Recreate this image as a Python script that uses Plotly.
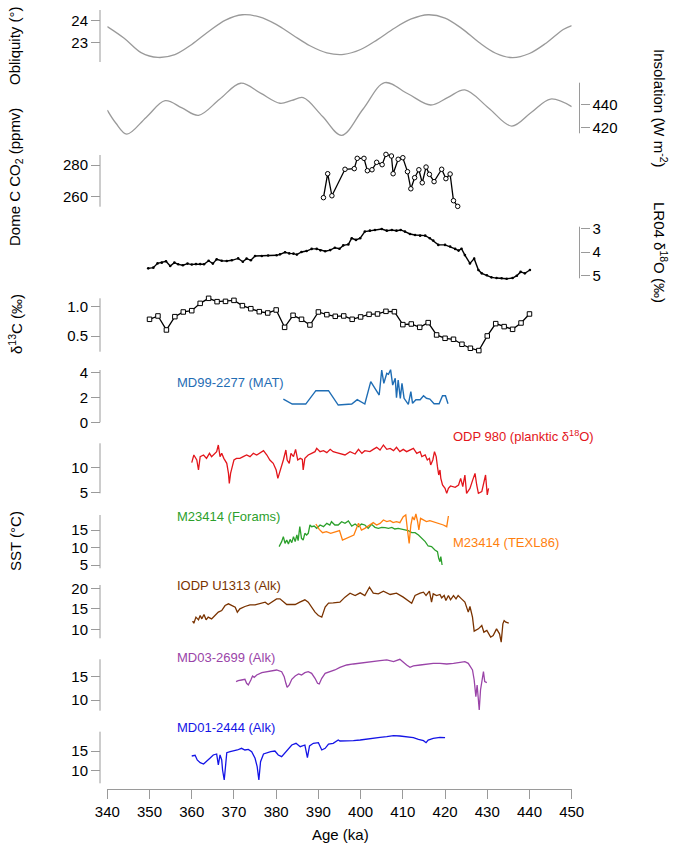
import plotly.graph_objects as go

W, H = 680, 848
FONT = "Liberation Sans, Arial, Helvetica, sans-serif"
GRAY = "#9a9a9a"

# ---------------- data (ages in ka) ----------------
obl_age = [340, 344, 348, 352, 356, 360, 364, 368, 372, 376, 380, 384, 388, 392,
           396, 400, 404, 408, 412, 416, 420, 424, 428, 432, 436, 440, 444, 448, 450]
obl_val = [23.73, 23.2, 22.55, 22.33, 22.46, 22.92, 23.51, 24.03, 24.27, 24.17, 23.83,
           23.34, 22.86, 22.54, 22.47, 22.69, 23.14, 23.66, 24.08, 24.27, 24.12, 23.64,
           23.02, 22.52, 22.32, 22.51, 22.99, 23.6, 23.78]

ins_age = [340, 342, 344.6, 349.2, 353.7, 357.7, 361.6, 366.6, 371.6, 376.3, 380.9,
           383.7, 386.4, 391, 395.5, 400.6, 405.7, 411.2, 416.6, 420.7, 424.7, 430.3,
           435.8, 440.4, 445, 450]
ins_val = [435, 424, 414.5, 428.8, 443.1, 436.9, 430.6, 444.3, 458, 449.5, 440.9,
           443.3, 445.7, 429.6, 413.5, 436, 458.5, 449, 439.4, 445.9, 452.3, 436.9,
           421.4, 433, 444.5, 438]

co2_age = [391.2, 392.2, 393.2, 396.3, 398.5, 399.2, 400.8, 401.6, 402.7, 403.8, 405.1,
           406.0, 407.3, 407.7, 408.9, 410.0, 411.1, 411.9, 412.8, 413.8, 414.6, 415.5,
           416.3, 417.4, 419.2, 420.2, 421.2, 422.0, 423.0]
co2_val = [259.4, 274.5, 260.6, 277.3, 277.7, 284.2, 284.2, 276.4, 277.0, 281.7, 280.2,
           286.7, 285.7, 274.5, 283.6, 284.6, 275.8, 265.0, 272.0, 277.0, 268.8, 278.7,
           274.1, 269.5, 277.3, 271.4, 274.3, 257.5, 253.9]

lr04_age = [349.7, 350.9, 351.9, 352.9, 353.9, 354.9, 355.9, 356.8, 357.9, 359.0, 360.0,
            361.0, 362.0, 362.9, 364.0, 365.0, 365.9, 367.1, 368.3, 369.5, 371.0, 372.1,
            373.0, 374.0, 375.0, 376.6, 378.1, 380.1, 380.9, 382.1, 383.1, 384.1, 384.9,
            386.0, 387.2, 388.4, 389.6, 390.5, 391.6, 392.8, 393.9, 395.0, 395.9, 397.1,
            397.9, 398.9, 399.9, 401.0, 402.2, 403.4, 405.0, 406.2, 407.4, 408.5, 409.5,
            410.5, 411.7, 412.9, 414.1, 415.3, 416.4, 417.2, 418.4, 420.0, 421.2, 422.4,
            423.2, 423.9, 424.7, 425.9, 426.9, 427.9, 428.7, 429.9, 431.0, 432.2, 433.4,
            434.6, 436.0, 437.0, 437.9, 438.9, 440.1]
lr04_val = [4.69, 4.66, 4.48, 4.45, 4.39, 4.59, 4.45, 4.52, 4.56, 4.49, 4.53, 4.51, 4.51,
            4.52, 4.37, 4.49, 4.31, 4.37, 4.38, 4.35, 4.27, 4.41, 4.28, 4.35, 4.17, 4.17,
            4.15, 4.14, 4.10, 4.01, 4.06, 4.07, 4.11, 4.00, 3.96, 3.87, 3.87, 3.93, 3.97,
            3.92, 3.82, 3.86, 3.72, 3.68, 3.42, 3.49, 3.42, 3.14, 3.10, 3.07, 3.03, 3.10,
            3.07, 3.10, 3.07, 3.14, 3.24, 3.28, 3.31, 3.31, 3.42, 3.52, 3.70, 3.70, 3.77,
            3.87, 3.94, 3.86, 4.13, 4.48, 4.28, 4.76, 4.90, 4.98, 5.07, 5.10, 5.11, 5.13,
            5.10, 5.00, 4.84, 4.90, 4.76]

d13c_age = [350, 352, 354, 356, 358, 360, 362, 364, 366, 368, 370, 372, 374, 376, 378,
            380, 382, 384, 386, 388, 390, 392, 394, 396, 398, 400, 402, 404, 406, 408,
            410, 412, 414, 416, 418, 420, 422, 424, 426, 428, 430, 432, 434, 436, 438, 440]
d13c_val = [0.785, 0.842, 0.603, 0.830, 0.910, 0.932, 1.057, 1.143, 1.086, 1.091, 1.108,
            1.018, 0.966, 0.915, 0.893, 0.944, 0.648, 0.853, 0.785, 0.688, 0.910, 0.864,
            0.836, 0.842, 0.785, 0.825, 0.870, 0.876, 0.921, 0.915, 0.694, 0.705, 0.648,
            0.728, 0.518, 0.461, 0.444, 0.359, 0.291, 0.251, 0.501, 0.711, 0.660, 0.614,
            0.722, 0.876]

mat_age = [381.7, 383.8, 387.0, 389.4, 392.4, 394.7, 397.9, 399.2, 401.0, 402.4, 404.4,
           405.0, 405.5, 406.2, 406.6, 407.1, 407.6, 408.2, 408.5, 408.9, 409.4, 409.8,
           410.3, 411.3, 411.9, 412.3, 413.1, 414.1, 414.9, 415.6, 416.4, 417.4, 418.6,
           419.4, 420.1, 420.7]
mat_val = [1.86, 1.46, 1.46, 2.53, 2.53, 1.38, 1.46, 1.81, 1.46, 3.25, 2.18, 4.18, 3.12,
           3.92, 3.84, 4.21, 2.98, 3.52, 1.97, 3.38, 1.92, 3.12, 1.92, 1.44, 2.45, 1.52,
           1.81, 1.81, 2.13, 1.92, 1.86, 1.49, 1.49, 2.13, 2.13, 1.49]

odp_age = [360.0, 360.5, 361.2, 361.6, 362.0, 362.8, 363.5, 364.2, 364.7, 365.3, 365.9,
           366.3, 366.7, 367.1, 367.6, 368.3, 368.7, 368.9, 369.2, 369.6, 370.0, 370.6,
           371.4, 372.2, 373.0, 373.8, 374.6, 375.4, 376.2, 377.0, 377.8, 378.5, 379.3,
           380.0, 380.4, 380.8, 381.2, 381.7, 382.3, 382.6, 383.1, 383.5, 384.1, 384.6,
           385.1, 385.7, 386.2, 386.4, 386.8, 387.6, 388.4, 389.2, 389.6, 390.4, 391.2,
           392.0, 392.8, 393.5, 394.3, 395.1, 396.3, 397.5, 398.7, 399.5, 400.3, 401.0,
           402.2, 403.0, 403.8, 404.6, 405.4, 406.2, 407.0, 407.8, 408.5, 409.3, 410.1,
           410.9, 411.7, 412.5, 413.3, 414.1, 414.5, 415.3, 415.8, 416.3, 416.6, 417.1,
           417.5, 417.9, 418.2, 418.5, 418.8, 419.0, 419.4, 420.0, 420.4, 420.8, 421.3,
           422.4, 423.2, 423.7, 424.2, 424.7, 425.1, 425.9, 426.5, 427.1, 427.5, 427.9,
           428.7, 429.1, 429.6, 430.0, 430.3]
odp_val = [10.93, 12.46, 11.46, 9.46, 12.13, 12.46, 11.79, 12.79, 12.13, 12.66, 13.13,
           14.46, 12.13, 12.79, 11.79, 10.79, 8.79, 6.79, 8.79, 10.13, 11.46, 11.79, 11.79,
           12.13, 12.46, 12.13, 12.79, 12.46, 12.93, 13.33, 12.46, 11.46, 10.79, 9.46, 7.79,
           8.79, 10.13, 11.46, 13.46, 11.46, 10.79, 12.79, 12.13, 13.59, 11.46, 11.79, 11.59,
           9.46, 11.79, 12.46, 12.79, 13.13, 13.79, 13.13, 13.33, 12.93, 13.59, 13.13, 12.93,
           12.79, 12.46, 13.13, 12.66, 13.59, 12.79, 13.33, 13.13, 13.59, 13.99, 13.46, 14.46,
           13.59, 13.79, 13.33, 13.99, 13.13, 13.59, 13.13, 13.46, 13.79, 12.79, 13.13, 12.13,
           12.46, 11.46, 11.79, 10.46, 11.46, 13.13, 12.13, 10.13, 8.46, 9.46, 7.79, 6.46,
           5.79, 4.79, 5.79, 6.26, 5.99, 6.46, 7.79, 6.13, 8.46, 4.79, 5.79, 7.33, 8.79, 6.46,
           4.79, 5.13, 6.79, 8.46, 4.46, 5.79]

foram_age = [380.7, 381.3, 381.7, 382.1, 382.5, 382.9, 383.3, 383.7, 384.1, 384.5, 384.9,
             385.2, 385.6, 386.0, 386.4, 386.8, 387.2, 387.6, 388.0, 388.4, 389.0, 389.6,
             390.4, 391.2, 392.0, 392.7, 393.1, 393.9, 394.7, 395.5, 396.3, 397.1, 397.9,
             398.7, 399.5, 400.2, 401.0, 401.8, 402.6, 403.0, 403.4, 404.2, 405.0, 405.8,
             406.6, 407.4, 408.1, 408.9, 409.7, 410.5, 411.3, 412.1, 412.9, 413.7, 414.5,
             415.3, 416.0, 416.8, 417.6, 418.2, 418.5, 418.8, 419.0, 419.3]
foram_val = [10.24, 11.67, 13.1, 11.19, 12.14, 11.0, 12.33, 11.38, 13.1, 11.67, 13.57,
             11.95, 15.95, 12.62, 12.14, 14.05, 13.57, 14.05, 16.43, 15.95, 16.14, 15.48,
             16.43, 15.95, 16.9, 16.43, 17.38, 16.43, 16.43, 17.38, 16.9, 17.57, 16.14, 16.71,
             15.95, 16.71, 16.43, 15.48, 16.62, 16.14, 15.76, 15.48, 15.76, 15.67, 15.48,
             15.76, 15.29, 15.48, 15.19, 15.0, 14.81, 14.24, 14.24, 13.57, 12.62, 11.67,
             10.43, 10.24, 9.29, 8.81, 6.9, 5.95, 7.38, 5.0]

tex_age = [389.4, 390.2, 391.0, 391.9, 392.9, 393.9, 395.0, 395.7, 396.5, 397.5, 398.4,
           399.5, 400.2, 401.0, 402.1, 403.0, 403.8, 404.6, 405.4, 406.2, 407.0, 407.7,
           408.5, 409.3, 410.1, 410.7, 411.1, 411.5, 411.9, 412.3, 412.7, 413.1, 413.5,
           413.8, 414.2, 414.9, 415.6, 416.4, 417.2, 418.0, 418.8, 419.6, 420.4, 420.8]
tex_val = [16.71, 15.19, 14.24, 14.52, 14.05, 14.52, 14.81, 12.14, 12.62, 13.1, 13.57,
           16.9, 15.0, 15.48, 16.43, 17.1, 16.43, 16.9, 17.86, 17.38, 17.67, 17.1, 17.38,
           17.1, 18.81, 19.29, 15.0, 11.19, 16.43, 18.81, 17.86, 19.57, 17.38, 15.0, 18.33,
           17.86, 17.38, 17.67, 17.38, 16.9, 16.71, 16.43, 15.95, 19.0]

u1313_age = [360.2, 360.5, 361.0, 361.6, 362.0, 362.4, 362.9, 363.4, 363.9, 364.7, 365.5,
             366.3, 367.1, 367.9, 368.7, 369.5, 370.3, 370.8, 371.4, 372.6, 373.8, 375.0,
             376.2, 377.4, 378.1, 378.9, 380.1, 380.9, 381.7, 382.5, 383.3, 384.5, 385.6,
             386.8, 387.6, 388.4, 389.2, 390.0, 390.8, 391.6, 392.4, 393.5, 395.1, 396.3,
             397.5, 398.7, 399.9, 401.0, 402.1, 403.0, 404.2, 405.4, 407.0, 408.5, 410.1,
             412.1, 412.9, 414.1, 414.9, 415.5, 416.3, 416.8, 417.2, 418.0, 418.8, 419.2,
             419.8, 420.2, 420.8, 421.3, 422.0, 422.6, 423.1, 423.9, 424.7, 425.5, 425.9,
             426.5, 426.9, 427.9, 428.7, 429.2, 429.9, 430.8, 431.4, 432.2, 432.9, 433.3,
             433.7, 434.0, 434.4, 435.1]
u1313_val = [11.98, 11.49, 12.96, 12.31, 13.37, 12.55, 13.61, 12.31, 12.96, 12.55, 13.37,
             14.18, 14.58, 15.8, 16.21, 15.8, 15.4, 14.18, 14.99, 15.56, 15.97, 15.97, 16.21,
             16.62, 16.05, 16.62, 17.43, 17.43, 16.62, 16.05, 16.05, 16.05, 16.62, 17.19,
             16.62, 15.4, 14.18, 13.37, 12.96, 15.4, 16.37, 16.45, 16.62, 17.84, 18.81, 18.24,
             18.89, 18.24, 20.27, 18.81, 18.65, 19.3, 18.49, 18.81, 17.84, 16.37, 18.24, 18.81,
             19.06, 18.24, 19.3, 16.62, 18.65, 18.24, 18.49, 17.67, 18.24, 17.02, 18.24, 17.19,
             18.24, 17.43, 18.24, 17.43, 16.62, 14.18, 15.56, 12.96, 9.54, 10.11, 10.93, 9.3,
             9.71, 8.08, 8.49, 10.11, 8.89, 6.86, 11.33, 12.14, 11.74, 11.49]

md03_age = [370.5, 371.0, 371.8, 372.6, 373.0, 373.4, 374.0, 374.4, 374.8, 375.4, 376.6,
            377.8, 378.9, 380.1, 381.3, 381.9, 382.3, 382.6, 383.1, 383.7, 384.5, 385.3,
            386.0, 386.8, 387.6, 388.4, 389.2, 389.8, 390.2, 390.8, 391.6, 392.8, 393.9,
            395.1, 396.7, 398.3, 399.9, 401.4, 403.0, 404.6, 406.2, 407.8, 409.3, 410.1,
            410.9, 411.7, 412.5, 414.1, 415.6, 417.2, 418.8, 420.4, 422.0, 423.5, 424.7,
            425.5, 426.1, 426.5, 426.9, 427.1, 427.3, 427.6, 427.9, 428.1, 428.4, 428.8,
            429.1, 429.4, 429.9]
md03_val = [13.94, 14.15, 14.29, 14.44, 13.58, 13.22, 14.29, 15.15, 14.87, 15.37, 15.87,
            16.08, 16.3, 16.44, 16.08, 15.01, 13.58, 12.72, 13.22, 14.44, 15.15, 15.58, 15.37,
            15.87, 16.08, 15.73, 14.65, 13.58, 13.44, 14.65, 15.73, 16.08, 16.44, 17.01, 17.51,
            17.73, 17.87, 18.01, 18.23, 18.44, 18.59, 18.23, 18.73, 18.01, 17.51, 17.01, 17.3,
            17.51, 17.73, 17.87, 17.87, 17.73, 17.87, 18.01, 18.23, 17.87, 17.16, 16.44, 14.29,
            12.86, 10.72, 13.22, 9.65, 7.86, 12.15, 14.29, 16.08, 13.94, 13.72]

md01_age = [360.0, 360.8, 361.3, 362.0, 362.8, 363.5, 364.3, 365.1, 365.9, 366.3, 366.7,
            367.1, 367.3, 367.7, 368.0, 368.3, 369.1, 369.9, 370.8, 371.8, 372.6, 373.4,
            374.2, 375.0, 375.5, 375.9, 376.3, 377.0, 377.8, 378.7, 379.7, 380.5, 381.3,
            382.1, 382.9, 383.7, 384.7, 385.7, 386.8, 387.4, 387.9, 388.8, 390.0, 390.8,
            391.6, 392.4, 393.5, 394.7, 395.1, 396.7, 398.3, 399.9, 401.4, 403.0, 404.6,
            406.2, 407.8, 409.3, 410.9, 412.5, 413.7, 414.9, 415.5, 416.0, 417.2, 418.8, 420.0]
md01_val = [13.73, 13.9, 12.72, 12.04, 11.7, 12.29, 13.14, 13.99, 14.24, 11.45, 13.99,
            12.72, 10.18, 7.64, 11.03, 14.58, 14.83, 15.0, 15.26, 15.68, 15.26, 15.42, 14.83,
            13.14, 11.03, 7.64, 12.29, 14.24, 14.58, 14.83, 15.0, 13.99, 13.56, 14.58, 15.68,
            16.52, 16.95, 16.1, 16.52, 13.31, 16.27, 16.95, 17.12, 15.26, 15.68, 16.78, 16.95,
            17.79, 17.54, 17.54, 17.62, 17.79, 18.05, 18.22, 18.47, 18.64, 18.89, 18.81, 18.64,
            18.39, 17.96, 17.62, 17.12, 17.79, 18.22, 18.47, 18.39]

age_ticks = list(range(340, 451, 10))

# ---------------- panel geometry (pixel calibration of each axis) ----------------
# (axis id, side, tick values, (tick A value, tick A px), (tick B value, tick B px), axis line top/bottom px)
LEFT_X, RIGHT_X = 100, 579.5
panels = [
    ("y",   "left",  [23, 24],        (24, 20.7),  (23, 42.7),   10, 62),
    ("y2",  "right", [420, 440],      (440, 104.3), (420, 127.7), 82.7, 133.3),
    ("y3",  "left",  [260, 280],      (280, 165),  (260, 196.7), 155, 206.7),
    ("y4",  "right", [3, 4, 5],       (3, 228.3),  (5, 275.7),   226.7, 278.3),
    ("y5",  "left",  [0.5, 1.0],      (1.0, 306.7), (0.5, 336),  298.3, 351.7),
    ("y6",  "left",  [0, 2, 4],       (4, 372.3),  (0, 422.3),   370, 422.3),
    ("y7",  "left",  [5, 10],         (10, 467.3), (5, 492.3),   443.3, 493.3),
    ("y8",  "left",  [5, 10, 15],     (15, 530),   (5, 565),     515, 568.3),
    ("y9",  "left",  [10, 15, 20],    (20, 588.3), (10, 629.3),  585, 638.3),
    ("y10", "left",  [10, 15],        (15, 676.7), (10, 700),    659.3, 710.7),
    ("y11", "left",  [10, 15],        (15, 751),   (10, 770.7),  731.7, 783.3),
]
PAD = 8

fig = go.Figure()


def line(x, y, ax, color, width=1.2, marker=None, shape="linear"):
    kw = dict(x=x, y=y, xaxis="x", yaxis=ax, mode="lines",
              line=dict(color=color, width=width, shape=shape), cliponaxis=False,
              hoverinfo="skip")
    if marker:
        kw["mode"] = "lines+markers"
        kw["marker"] = marker
    fig.add_trace(go.Scatter(**kw))


line(obl_age, obl_val, "y", GRAY, 1.3, shape="spline")
line(ins_age, ins_val, "y2", GRAY, 1.3, shape="spline")
line(co2_age, co2_val, "y3", "black", 1.3,
     marker=dict(symbol="circle", size=4.5, color="white", line=dict(color="black", width=1)))
line(lr04_age, lr04_val, "y4", "black", 1.4,
     marker=dict(symbol="circle", size=2.6, color="black"))
line(d13c_age, d13c_val, "y5", "black", 1.3,
     marker=dict(symbol="square", size=4.5, color="white", line=dict(color="black", width=1)))
line(mat_age, mat_val, "y6", "#1f6db4", 1.4)
line(odp_age, odp_val, "y7", "#e3151b", 1.3)
line(foram_age, foram_val, "y8", "#2ca02c", 1.3)
line(tex_age, tex_val, "y8", "#ff7f0e", 1.3)
line(u1313_age, u1313_val, "y9", "#7a3300", 1.3)
line(md03_age, md03_val, "y10", "#9a44a8", 1.3)
line(md01_age, md01_val, "y11", "#1414e6", 1.3)

layout = dict(
    template="none",
    width=W, height=H, margin=dict(l=0, r=0, t=0, b=0, autoexpand=False), showlegend=False,
    paper_bgcolor="white", plot_bgcolor="rgba(0,0,0,0)",
    font=dict(family=FONT, size=15, color="black"),
    xaxis=dict(domain=[107.3 / W, 571.7 / W], range=[340, 450], anchor="free",
               position=1 - 789.3 / H, showline=True, linecolor=GRAY, linewidth=1,
               ticks="outside", ticklen=9, tickcolor=GRAY, tickvals=age_ticks,
               showgrid=False, zeroline=False, tickfont=dict(size=15), automargin=False),
)
shapes = []
for ax, side, tv, (va, pa), (vb, pb), top, bot in panels:
    slope = (vb - va) / (pb - pa)

    def val(p):
        return va + (p - pa) * slope

    ptop = max(top - PAD, 0)
    pbot = min(bot + PAD, H)
    xpos = (LEFT_X if side == "left" else RIGHT_X) / W
    key = "yaxis" + ax[1:]
    layout[key] = dict(
        domain=[1 - pbot / H, 1 - ptop / H],
        range=[val(pbot), val(ptop)],
        anchor="free", position=xpos, side=side, automargin=False,
        showline=False, showgrid=False, zeroline=False,
        ticks="outside", ticklen=9, tickcolor=GRAY, tickvals=tv,
        ticktext=[("%.1f" % t) if ax == "y5" else str(t) for t in tv],
        tickfont=dict(size=15),
    )
    shapes.append(dict(type="line", xref="paper", yref=ax, x0=xpos, x1=xpos,
                       y0=val(top), y1=val(bot), line=dict(color=GRAY, width=1)))
layout["shapes"] = shapes
fig.update_layout(**layout)


def note(text, px, py, angle=0, size=15, color="black", anchor="center"):
    fig.add_annotation(text=text, x=px / W, y=1 - py / H, xref="paper", yref="paper",
                       showarrow=False, textangle=angle, xanchor=anchor, yanchor="middle",
                       font=dict(family=FONT, size=size, color=color))


# axis titles
note("Obliquity (°)", 15, 46, -90)
note("Dome C CO<sub>2</sub> (ppmv)", 15, 177, -90)
note("δ<sup>13</sup>C (‰)", 15, 324, -90)
note("SST (°C)", 15, 541, -90)
note("Insolation (W m<sup>-2</sup>)", 661, 108, 90)
note("LR04 δ<sup>18</sup>O (‰)", 661, 252, 90)
note("Age (ka)", 340, 834)

# series labels
note("MD99-2277 (MAT)", 175, 383, size=13, color="#1f6db4", anchor="left")
note("ODP 980 (planktic δ<sup>18</sup>O)", 451, 436, size=13, color="#e3151b", anchor="left")
note("M23414 (Forams)", 175, 516, size=13, color="#2ca02c", anchor="left")
note("M23414 (TEXL86)", 451, 542, size=13, color="#ff7f0e", anchor="left")
note("IODP U1313 (Alk)", 175, 585, size=13, color="#7a3300", anchor="left")
note("MD03-2699 (Alk)", 175, 657, size=13, color="#9a44a8", anchor="left")
note("MD01-2444 (Alk)", 175, 727, size=13, color="#1414e6", anchor="left")

# the page body has a default 8px margin; drop it so the figure sits at (0, 0)
fig.write_html("out.html", config={"displayModeBar": False},
               post_script="document.body.style.margin='0';")
